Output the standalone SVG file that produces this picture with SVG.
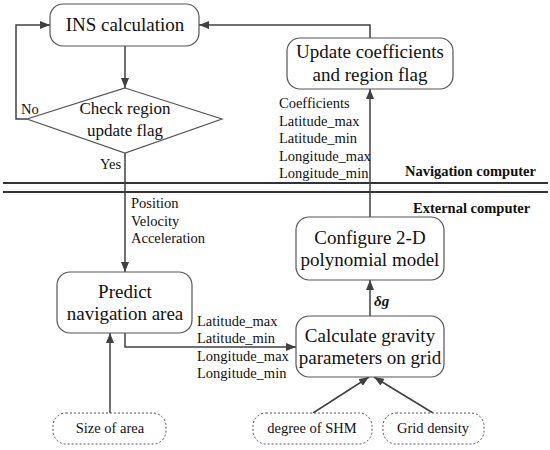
<svg xmlns="http://www.w3.org/2000/svg" width="550" height="450" viewBox="0 0 550 450">
<defs>
<marker id="ah" markerUnits="userSpaceOnUse" markerWidth="10" markerHeight="8" refX="10" refY="4" orient="auto">
<path d="M0,0 L10,4 L0,8 z" fill="#404040"/>
</marker>
<style>
.box{fill:#fff;stroke:#555;stroke-width:1.2}
.dbox{fill:#fff;stroke:#555;stroke-width:1;stroke-dasharray:2,2}
.big{font-family:"Liberation Serif",serif;font-size:19px;fill:#111;text-anchor:middle}
.mid{font-family:"Liberation Serif",serif;font-size:17px;fill:#111;text-anchor:middle}
.sm{font-family:"Liberation Serif",serif;font-size:14.5px;fill:#111}
.smc{font-family:"Liberation Serif",serif;font-size:14.5px;fill:#111;text-anchor:middle}
.bold{font-family:"Liberation Serif",serif;font-size:14.5px;font-weight:bold;fill:#111}
.ln{fill:none;stroke:#404040;stroke-width:1.5}
.sep{stroke:#333;stroke-width:2}
</style>
</defs>
<g id="separator">
<line class="sep" x1="3" y1="183" x2="548" y2="183"/>
<line class="sep" x1="3" y1="192" x2="548" y2="192"/>
<text class="bold" x="405" y="176">Navigation computer</text>
<text class="bold" x="413" y="213">External computer</text>
</g>
<g id="connectors">
<path class="ln" d="M125,46 V88" marker-end="url(#ah)"/>
<path class="ln" d="M27,119 H16 V25 H50" marker-end="url(#ah)"/>
<path class="ln" d="M125,153 V272" marker-end="url(#ah)"/>
<path class="ln" d="M370,38 V25 H199" marker-end="url(#ah)"/>
<path class="ln" d="M370,217 V89" marker-end="url(#ah)"/>
<path class="ln" d="M125,333 V347 H296" marker-end="url(#ah)"/>
<path class="ln" d="M110,413 V333" marker-end="url(#ah)"/>
<path class="ln" d="M370,316 V280" marker-end="url(#ah)"/>
<path class="ln" d="M313,413 L369,377" marker-end="url(#ah)"/>
<path class="ln" d="M433,413 L374,377" marker-end="url(#ah)"/>
<text class="sm" x="21" y="114">No</text>
<text class="sm" x="100" y="169">Yes</text>
<text class="sm" x="131" y="208">Position</text>
<text class="sm" x="131" y="226">Velocity</text>
<text class="sm" x="131" y="243">Acceleration</text>
<text class="sm" x="279" y="108">Coefficients</text>
<text class="sm" x="279" y="126">Latitude_max</text>
<text class="sm" x="279" y="143">Latitude_min</text>
<text class="sm" x="279" y="161">Longitude_max</text>
<text class="sm" x="279" y="178">Longitude_min</text>
<text class="sm" x="197" y="326">Latitude_max</text>
<text class="sm" x="197" y="343">Latitude_min</text>
<text class="sm" x="197" y="361">Longitude_max</text>
<text class="sm" x="197" y="378">Longitude_min</text>
<text x="374" y="306" font-family="Liberation Serif,serif" font-size="15px" font-weight="bold" font-style="italic" fill="#111">δg</text>
</g>
<g id="ins">
<rect class="box" x="50" y="4" width="149" height="42" rx="13"/>
<text class="big" x="125" y="31">INS calculation</text>
</g>
<g id="check">
<polygon class="box" points="125,88 222,119 125,153 27,119"/>
<text class="mid" x="125" y="114">Check region</text>
<text class="mid" x="125" y="136">update flag</text>
</g>
<g id="update">
<rect class="box" x="287" y="38" width="166" height="51" rx="13"/>
<text class="big" x="370" y="58">Update coefficients</text>
<text class="big" x="370" y="81">and region flag</text>
</g>
<g id="configure">
<rect class="box" x="296" y="217" width="148" height="63" rx="13"/>
<text class="big" x="370" y="244">Configure 2-D</text>
<text class="big" x="370" y="266">polynomial model</text>
</g>
<g id="predict">
<rect class="box" x="57" y="272" width="135" height="61" rx="13"/>
<text class="big" x="125" y="298">Predict</text>
<text class="big" x="125" y="320">navigation area</text>
</g>
<g id="calculate">
<rect class="box" x="296" y="316" width="148" height="61" rx="13"/>
<text class="big" x="370" y="342">Calculate gravity</text>
<text class="big" x="370" y="364">parameters on grid</text>
</g>
<g id="size">
<rect class="dbox" x="53" y="413" width="113" height="31" rx="13"/>
<text class="smc" x="110" y="433">Size of area</text>
</g>
<g id="shm">
<rect class="dbox" x="253" y="413" width="119" height="31" rx="13"/>
<text class="smc" x="312" y="433">degree of SHM</text>
</g>
<g id="grid">
<rect class="dbox" x="383" y="413" width="101" height="31" rx="13"/>
<text class="smc" x="433" y="433">Grid density</text>
</g>
</svg>
